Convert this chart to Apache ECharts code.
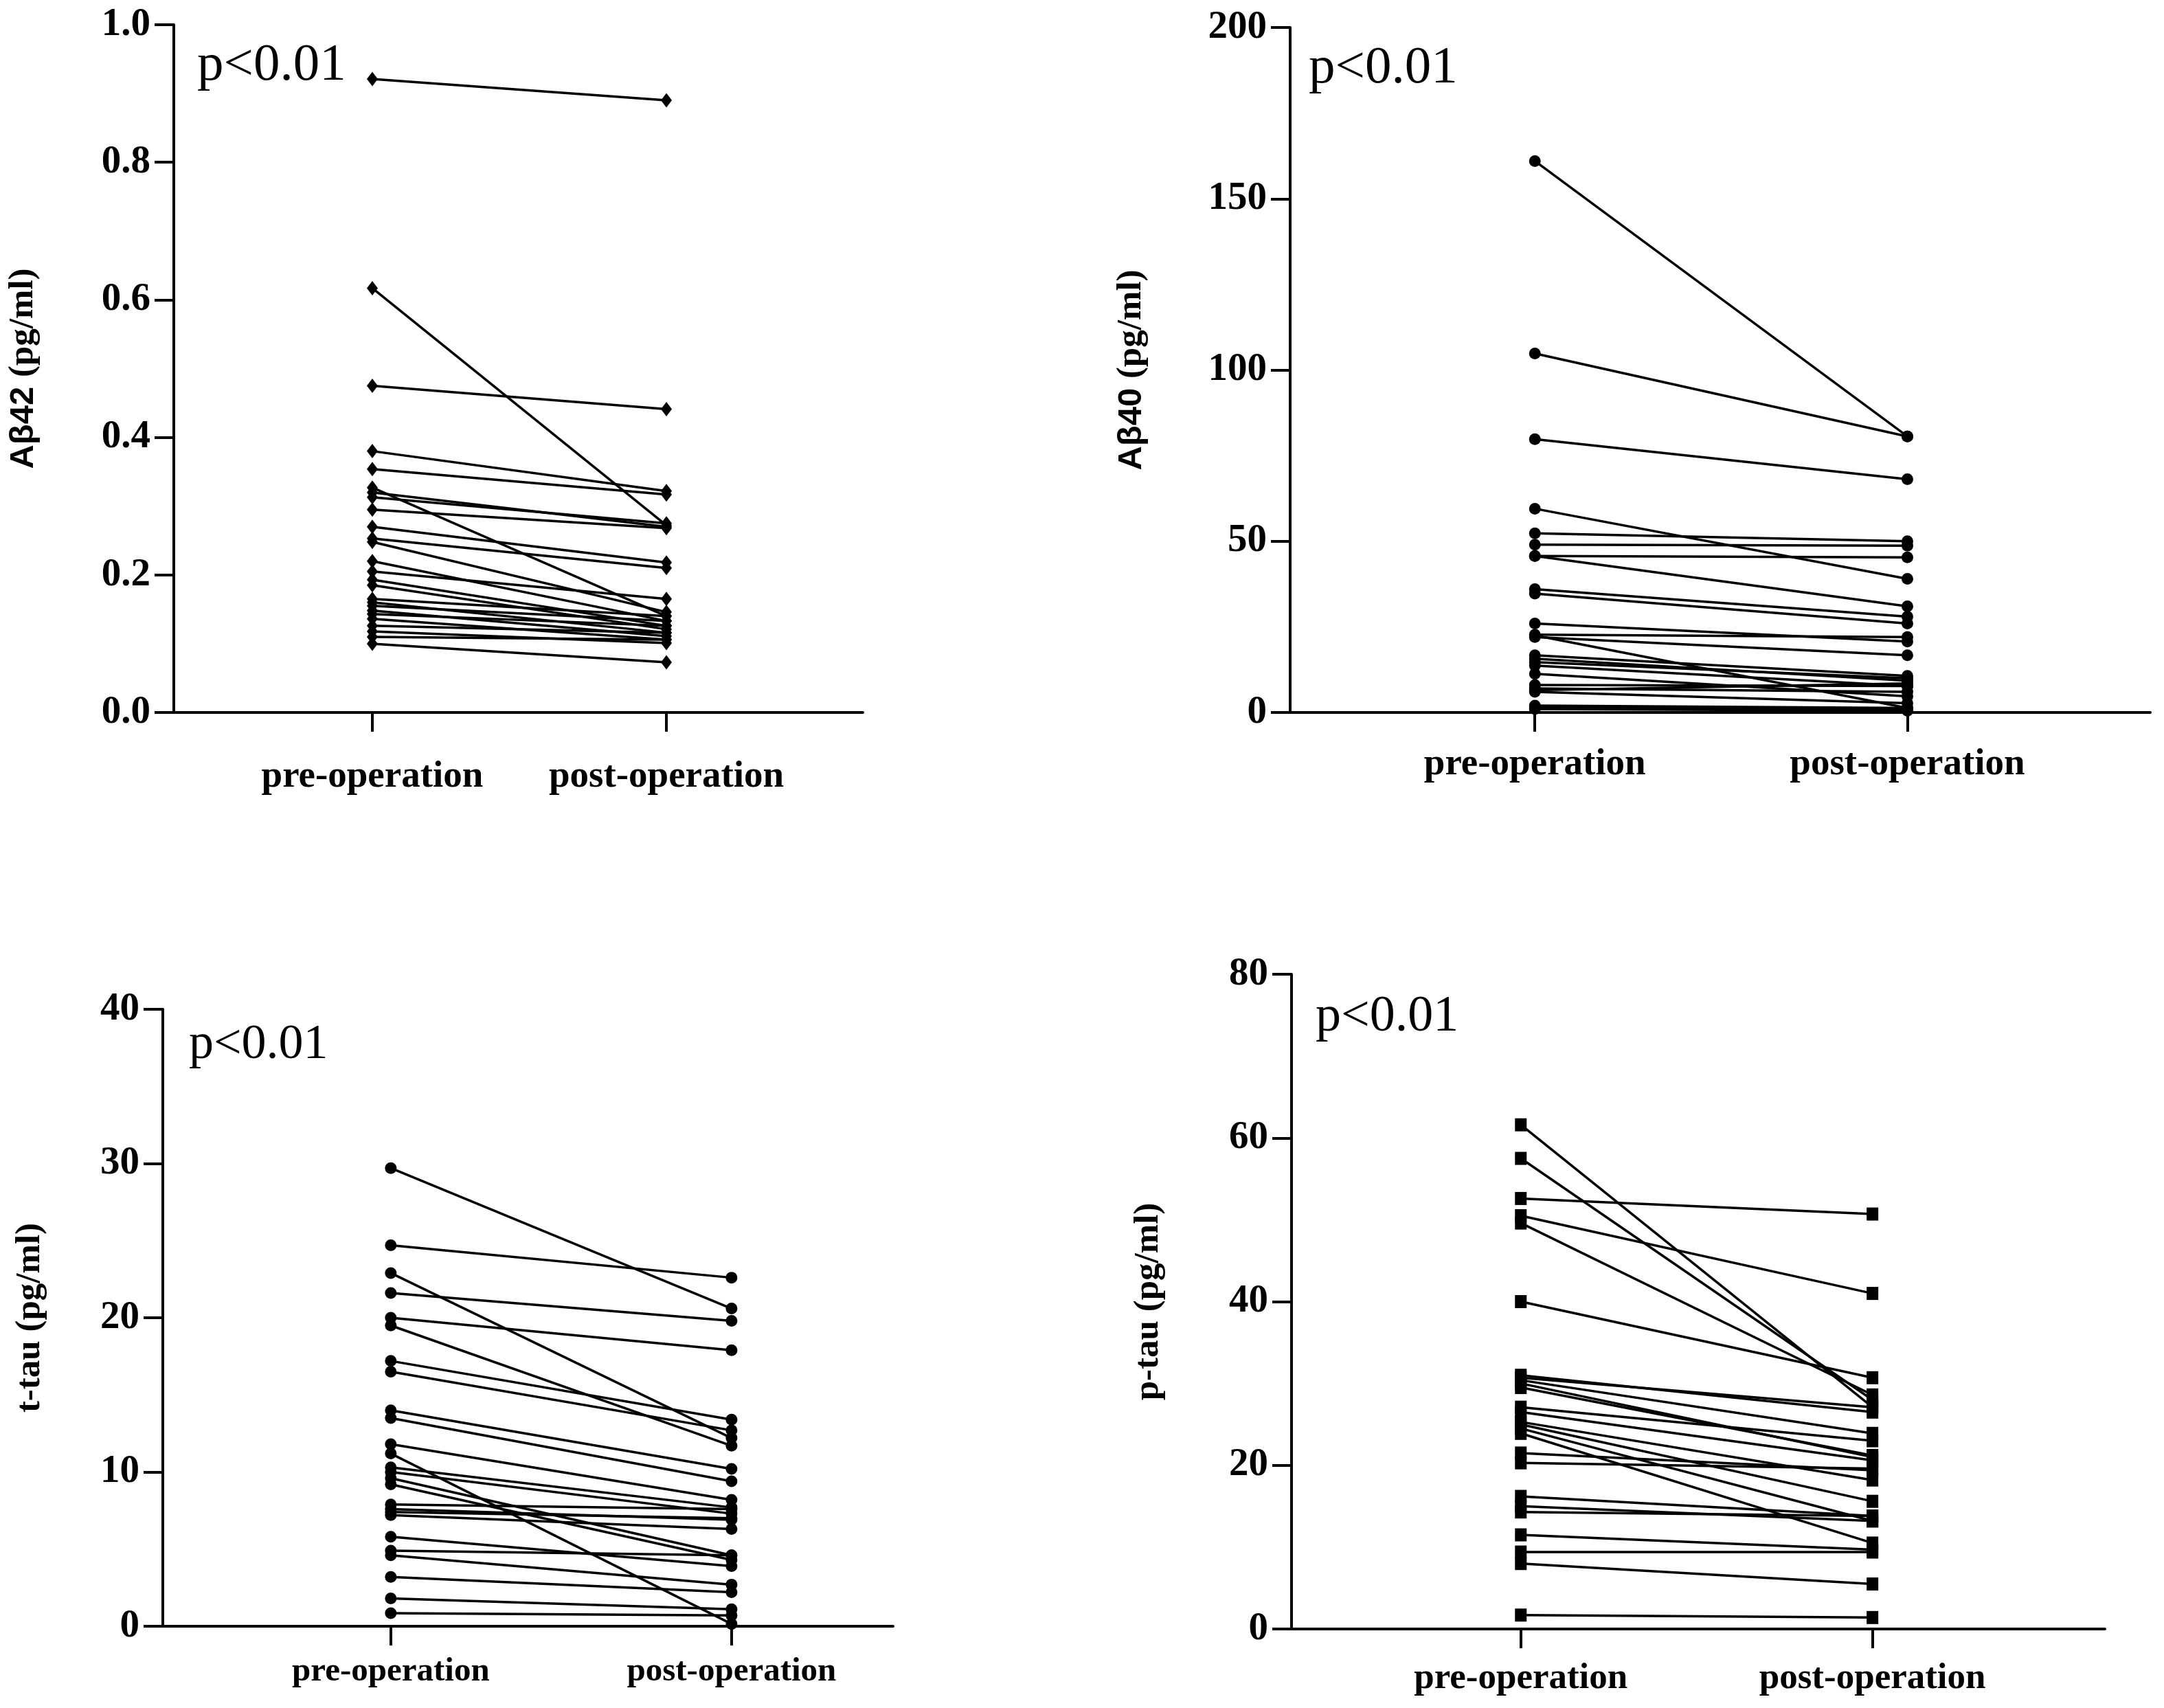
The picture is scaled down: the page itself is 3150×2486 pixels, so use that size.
<!DOCTYPE html>
<html>
<head>
<meta charset="utf-8">
<script src="https://cdn.jsdelivr.net/npm/echarts@6/dist/echarts.min.js"></script>
<style>
  html, body { margin: 0; padding: 0; background: #fff; }
  #chart { width: 3150px; height: 2486px; }
</style>
</head>
<body>
<div id="chart"></div>
<script>
const groups = ["pre-operation", "post-operation"];

const ab42Pre = [0.921, 0.617, 0.475, 0.380, 0.354, 0.327, 0.320, 0.313, 0.295, 0.270, 0.253, 0.248, 0.220,
  0.205, 0.193, 0.185, 0.165, 0.160, 0.155, 0.148, 0.143, 0.136, 0.126, 0.118, 0.110, 0.100];
const ab42Post = [0.890, 0.272, 0.441, 0.322, 0.317, 0.140, 0.270, 0.275, 0.268, 0.218, 0.210, 0.146, 0.133,
  0.165, 0.126, 0.121, 0.140, 0.116, 0.133, 0.111, 0.126, 0.106, 0.116, 0.101, 0.106, 0.073];

const ab40Pre = [161.0, 104.8, 79.8, 59.5, 52.3, 49.0, 45.7, 45.7, 36.0, 34.7, 26.0, 22.7, 22.0, 22.5,
  16.7, 15.7, 14.7, 13.7, 11.3, 8.0, 7.0, 6.0, 6.5, 2.0, 1.0, 1.5];
const ab40Post = [80.6, 80.6, 68.1, 39.0, 50.0, 48.7, 45.3, 31.0, 28.0, 26.0, 20.7, 22.0, 16.7, 1.3,
  10.7, 9.3, 10.0, 7.7, 4.7, 7.7, 6.0, 2.7, 8.5, 1.3, 0.5, 1.0];

const ttauPre = [29.7, 24.7, 22.9, 21.6, 20.0, 19.5, 17.2, 16.5, 14.0, 13.5, 11.8, 11.2, 10.3, 10.0,
  9.6, 9.2, 7.9, 7.6, 7.4, 7.2, 5.8, 4.9, 4.6, 3.2, 1.8, 0.85];
const ttauPost = [20.6, 22.6, 12.2, 19.8, 17.9, 11.7, 13.4, 12.7, 10.2, 9.4, 8.2, 0.15, 7.7, 7.3,
  4.6, 4.3, 7.6, 6.9, 7.0, 6.3, 3.9, 4.6, 2.7, 2.2, 1.1, 0.7];

const ptauPre = [61.6, 57.5, 52.6, 50.5, 49.6, 40.0, 31.0, 30.7, 30.4, 30.0, 29.5, 27.1, 26.5, 25.3,
  25.0, 24.5, 23.9, 21.5, 20.3, 16.2, 15.0, 14.3, 11.5, 9.4, 8.0, 1.7];
const ptauPost = [27.1, 28.0, 50.7, 41.0, 28.6, 30.7, 26.5, 27.1, 23.9, 21.0, 21.2, 23.0, 20.6, 18.2,
  15.6, 13.2, 10.5, 19.4, 19.6, 13.8, 13.2, 13.8, 9.7, 9.4, 5.5, 1.4];

const ab42Ticks = [0, 0.2, 0.4, 0.6, 0.8, 1.0];
const ab40Ticks = [0, 50, 100, 150, 200];
const ttauTicks = [0, 10, 20, 30, 40];
const ptauTicks = [0, 20, 40, 60, 80];

const panels = [
  { pre: ab42Pre, post: ab42Post, ticks: ab42Ticks, digits: 1, symbol: "diamond", symbolSize: [16, 21],
    title: "{a|Aβ42 }{b|(pg/ml)}",
    left: 253, top: 36, right: 1256, bottom: 1037, xMin: 0.325, xMax: 2.668,
    catSize: 55, catMargin: 66, titleX: 34, pX: 287, pY: 96, pSize: 77 },
  { pre: ab40Pre, post: ab40Post, ticks: ab40Ticks, digits: 0, symbol: "circle", symbolSize: 17,
    title: "{a|Aβ40 }{b|(pg/ml)}",
    left: 1878, top: 40, right: 3130, bottom: 1037, xMin: 0.343, xMax: 2.652,
    catSize: 55, catMargin: 48, titleX: 1647, pX: 1905, pY: 100, pSize: 77 },
  { pre: ttauPre, post: ttauPost, ticks: ttauTicks, digits: 0, symbol: "circle", symbolSize: 17,
    title: "{b|t-tau (pg/ml)}",
    left: 237, top: 1469, right: 1300, bottom: 2367, xMin: 0.331, xMax: 2.474,
    catSize: 49, catMargin: 42, titleX: 44, pX: 275, pY: 1521, pSize: 72 },
  { pre: ptauPre, post: ptauPost, ticks: ptauTicks, digits: 0, symbol: "rect", symbolSize: [17, 19],
    title: "{b|p-tau (pg/ml)}",
    left: 1880, top: 1418, right: 3064, bottom: 2371, xMin: 0.348, xMax: 2.661,
    catSize: 53, catMargin: 46, titleX: 1672, pX: 1915, pY: 1481, pSize: 74 }
];

const serif = "'Liberation Serif', 'Times New Roman', serif";
const sans = "'Liberation Sans', Arial, sans-serif";

const grid = [];
const xAxis = [];
const yAxis = [];
const series = [];
const graphic = [];

panels.forEach((p, i) => {
  grid.push({
    left: p.left,
    top: p.top,
    width: p.right - p.left,
    height: p.bottom - p.top,
    containLabel: false
  });
  xAxis.push({
    gridIndex: i,
    type: "value",
    min: p.xMin,
    max: p.xMax,
    axisLine: { show: true, onZero: false, lineStyle: { color: "#000", width: 4 } },
    axisTick: { show: true, customValues: [1, 2], length: 28, lineStyle: { color: "#000", width: 4 } },
    axisLabel: {
      customValues: [1, 2],
      formatter: (v) => groups[Math.round(v) - 1] || "",
      fontFamily: serif,
      fontWeight: "bold",
      fontSize: p.catSize,
      color: "#000",
      margin: p.catMargin
    },
    splitLine: { show: false }
  });
  const t = p.ticks;
  yAxis.push({
    gridIndex: i,
    type: "value",
    min: t[0],
    max: t[t.length - 1],
    interval: t[1] - t[0],
    axisLine: { show: true, lineStyle: { color: "#000", width: 4 } },
    axisTick: { show: true, length: 28, lineStyle: { color: "#000", width: 4 } },
    axisLabel: {
      formatter: (v) => v.toFixed(p.digits),
      fontFamily: serif,
      fontWeight: "bold",
      fontSize: 57,
      color: "#000",
      margin: 34
    },
    splitLine: { show: false }
  });
  p.pre.forEach((v, k) => {
    series.push({
      type: "line",
      xAxisIndex: i,
      yAxisIndex: i,
      data: [[1, v], [2, p.post[k]]],
      symbol: p.symbol,
      symbolSize: p.symbolSize,
      showSymbol: true,
      lineStyle: { color: "#000", width: 3.5 },
      itemStyle: { color: "#000" },
      silent: true,
      z: 3
    });
  });
  graphic.push({
    type: "text",
    x: p.titleX,
    y: (p.top + p.bottom) / 2,
    rotation: Math.PI / 2,
    style: {
      text: p.title,
      align: "center",
      verticalAlign: "middle",
      fill: "#000",
      rich: {
        a: { fontFamily: sans, fontWeight: "bold", fontSize: 49, fill: "#000" },
        b: { fontFamily: serif, fontWeight: "bold", fontSize: 51, fill: "#000" }
      }
    }
  });
  graphic.push({
    type: "text",
    x: p.pX,
    y: p.pY,
    style: {
      text: "p<0.01",
      fontFamily: serif,
      fontSize: p.pSize,
      fill: "#000",
      align: "left",
      verticalAlign: "middle"
    }
  });
});

const chart = echarts.init(document.getElementById("chart"), null, { renderer: "canvas" });
chart.setOption({
  animation: false,
  backgroundColor: "#fff",
  grid: grid,
  xAxis: xAxis,
  yAxis: yAxis,
  series: series,
  graphic: graphic
});
</script>
</body>
</html>
